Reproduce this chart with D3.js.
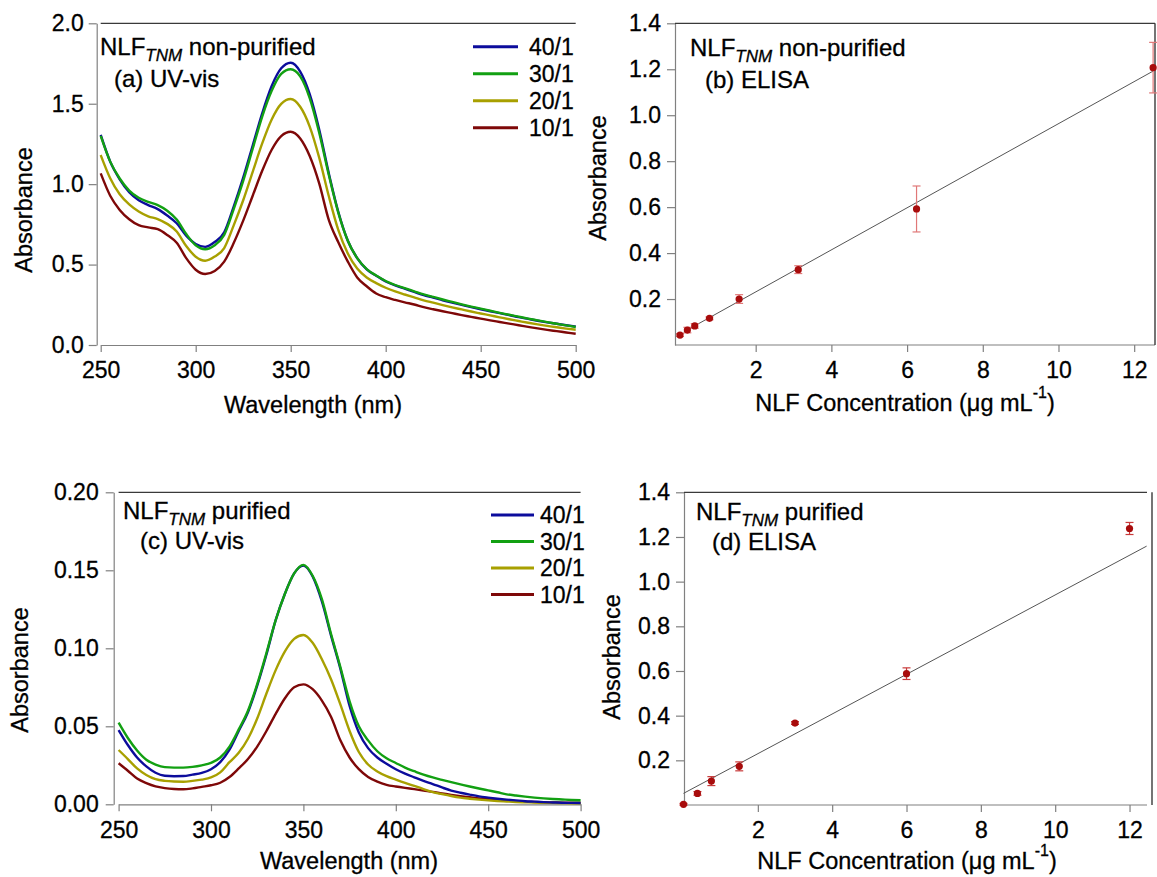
<!DOCTYPE html>
<html><head><meta charset="utf-8">
<script src="https://cdn.jsdelivr.net/npm/d3@7"></script>
<style>
body{margin:0;background:#fff;}
svg text{font-family:"Liberation Sans", Arial, sans-serif; fill:#000; stroke:#000; stroke-width:0.3px;}
</style></head><body>
<svg id="chart" width="1157" height="877"></svg>
<script>
// ---------- data ----------
const wavelength = [250,255,260,265,270,275,280,285,290,295,300,305,310,315,320,325,330,335,340,345,350,355,360,365,370,375,380,385,390,395,400,405,410,415,420,425,430,435,440,445,450,455,460,465,470,475,480,485,490,495,500];
const ratioNames = ["40/1","30/1","20/1","10/1"];
const ratioColors = ["#0c0c9c","#12a012","#a8a000","#7e0808"];

// (a) non-purified UV-vis
const uvA_40 = [1.306,1.14,1.03,0.95,0.90,0.87,0.845,0.805,0.757,0.68,0.628,0.61,0.64,0.70,0.86,1.04,1.24,1.44,1.61,1.72,1.755,1.70,1.56,1.34,1.07,0.83,0.65,0.54,0.47,0.43,0.395,0.37,0.35,0.33,0.31,0.295,0.278,0.263,0.249,0.235,0.222,0.21,0.198,0.186,0.173,0.162,0.151,0.141,0.132,0.123,0.115];
const uvA_30 = [1.30,1.14,1.035,0.96,0.915,0.89,0.87,0.835,0.78,0.69,0.62,0.595,0.62,0.685,0.845,1.02,1.22,1.42,1.58,1.685,1.714,1.67,1.535,1.32,1.06,0.825,0.65,0.54,0.472,0.432,0.398,0.373,0.353,0.334,0.315,0.299,0.283,0.268,0.253,0.239,0.226,0.213,0.2,0.188,0.176,0.164,0.153,0.142,0.132,0.122,0.112];
const uvA_20 = [1.181,1.037,0.937,0.874,0.83,0.80,0.783,0.753,0.706,0.615,0.549,0.524,0.55,0.603,0.744,0.90,1.077,1.253,1.402,1.499,1.529,1.481,1.358,1.165,0.928,0.717,0.57,0.475,0.42,0.385,0.356,0.333,0.314,0.296,0.278,0.263,0.248,0.234,0.221,0.208,0.196,0.184,0.172,0.16,0.149,0.138,0.128,0.119,0.11,0.102,0.095];
const uvA_10 = [1.067,0.928,0.84,0.782,0.745,0.731,0.72,0.684,0.635,0.54,0.468,0.441,0.46,0.518,0.634,0.773,0.928,1.083,1.214,1.299,1.326,1.284,1.175,1.005,0.78,0.64,0.52,0.42,0.365,0.32,0.297,0.28,0.265,0.252,0.235,0.222,0.21,0.198,0.186,0.175,0.164,0.153,0.143,0.133,0.123,0.113,0.103,0.094,0.086,0.078,0.07];

// (c) purified UV-vis
const uvC_40 = [0.0476,0.038,0.030,0.0243,0.0202,0.0183,0.018,0.0181,0.019,0.0201,0.0225,0.027,0.035,0.047,0.059,0.076,0.096,0.118,0.135,0.148,0.153,0.146,0.130,0.108,0.087,0.063,0.046,0.036,0.030,0.026,0.0225,0.0197,0.0173,0.015,0.013,0.0108,0.0088,0.0074,0.0062,0.0051,0.0043,0.0036,0.003,0.0025,0.002,0.0017,0.0014,0.0012,0.001,0.0009,0.0008];
const uvC_30 = [0.0523,0.0425,0.0345,0.0286,0.0255,0.0238,0.0235,0.0235,0.024,0.025,0.0265,0.030,0.037,0.048,0.060,0.077,0.097,0.118,0.135,0.148,0.1535,0.1465,0.1315,0.109,0.088,0.066,0.050,0.041,0.034,0.0295,0.0265,0.0235,0.0212,0.019,0.0172,0.0157,0.0142,0.0128,0.0114,0.0101,0.0089,0.0077,0.0064,0.0056,0.0049,0.0043,0.0038,0.0034,0.0031,0.0028,0.0026];
const uvC_20 = [0.0348,0.029,0.023,0.0188,0.0161,0.015,0.0146,0.0145,0.015,0.0158,0.0172,0.0205,0.027,0.033,0.042,0.055,0.071,0.086,0.098,0.106,0.1085,0.1035,0.093,0.08,0.064,0.047,0.0335,0.0255,0.021,0.018,0.0158,0.0137,0.0118,0.0098,0.0078,0.0065,0.0053,0.0043,0.0036,0.003,0.0025,0.0021,0.0018,0.0015,0.0013,0.0011,0.001,0.0009,0.0008,0.0007,0.0007];
const uvC_10 = [0.0263,0.0215,0.0165,0.0136,0.0115,0.0104,0.0098,0.0096,0.0102,0.0112,0.0122,0.0138,0.0175,0.023,0.029,0.037,0.047,0.058,0.068,0.075,0.0769,0.0738,0.0665,0.056,0.041,0.030,0.0225,0.0175,0.0145,0.0125,0.0114,0.0105,0.0097,0.0088,0.008,0.0069,0.006,0.0052,0.0045,0.0038,0.0032,0.0027,0.0023,0.002,0.0017,0.0015,0.0013,0.0012,0.0011,0.001,0.001];

// (b) non-purified ELISA
const elisaB_conc = [0, 0.195, 0.39, 0.78, 1.5625, 3.125, 6.25, 12.5];
const elisaB_abs  = [0.043, 0.065, 0.083, 0.116, 0.200, 0.328, 0.592, 1.207];
const elisaB_err  = [0.006, 0.012, 0.010, 0.006, 0.019, 0.017, 0.100, 0.110];
const fitB_conc = [0.1, 12.5];
const fitB_abs  = [0.057, 1.192];

// (d) purified ELISA
const elisaD_conc = [0, 0.375, 0.75, 1.5, 3, 6, 12];
const elisaD_abs  = [0.003, 0.052, 0.107, 0.173, 0.367, 0.588, 1.238];
const elisaD_err  = [0.004, 0.008, 0.020, 0.020, 0.006, 0.026, 0.027];
const fitD_conc = [0, 12.46];
const fitD_abs  = [0.052, 1.159];

// tick labels
const uvXTicks = [250,300,350,400,450,500];
const uvAYTicks = [0,0.5,1.0,1.5,2.0];
const uvCYTicks = [0,0.05,0.10,0.15,0.20];
const elisaXTicks = [2,4,6,8,10,12];
const elisaYTicks = [0.2,0.4,0.6,0.8,1.0,1.2,1.4];

// ---------- drawing ----------
const svg = d3.select("#chart");
const AXIS = "#808080", FRAME = "#3a3a3a";
const TICKFS = 23, LABFS = 23.5, TXTFS = 24, SUBFS = 17;

function styleAxis(g){
  g.selectAll(".domain").attr("stroke", AXIS).attr("stroke-width",1.2);
  g.selectAll(".tick line").attr("stroke", AXIS).attr("stroke-width",1.2);
  g.selectAll(".tick text").attr("fill","#000").style("font-size",TICKFS+"px")
    .style("font-family",'"Liberation Sans", Arial, sans-serif');
}

function titleText(x, y, main, rest, line2, x2, y2){
  const t = svg.append("text").attr("x",x).attr("y",y).style("font-size",TXTFS+"px");
  t.append("tspan").text(main);
  t.append("tspan").attr("dy",6).style("font-size",SUBFS+"px").style("font-style","italic").text("TNM");
  t.append("tspan").attr("dy",-6).text(rest);
  svg.append("text").attr("x",x2).attr("y",y2).style("font-size",TXTFS+"px").text(line2);
}

function xLabelConc(cx, y){
  const t = svg.append("text").attr("x",cx).attr("y",y).attr("text-anchor","middle").style("font-size",LABFS+"px");
  t.append("tspan").text("NLF Concentration (μg mL");
  t.append("tspan").attr("dy",-13).style("font-size","16px").text("-1");
  t.append("tspan").attr("dy",13).text(")");
}

function yLabel(x, cy){
  svg.append("text").attr("transform",`translate(${x},${cy}) rotate(-90)`)
    .attr("text-anchor","middle").style("font-size",LABFS+"px").text("Absorbance");
}

function spectraPanel(cfg){
  const x = d3.scaleLinear().domain([250,500]).range([cfg.left, cfg.right]);
  const y = d3.scaleLinear().domain([0, cfg.ymax]).range([cfg.bottom, cfg.top]);
  const gx = svg.append("g").attr("transform",`translate(0,${cfg.bottom})`)
    .call(d3.axisBottom(x).tickValues(uvXTicks).tickSize(7).tickSizeOuter(0).tickPadding(10).tickFormat(d3.format("d")));
  styleAxis(gx);
  const gy = svg.append("g").attr("transform",`translate(${cfg.axisX},0)`)
    .call(d3.axisLeft(y).tickValues(cfg.yTicks).tickSize(8).tickSizeOuter(0).tickPadding(cfg.ypad).tickFormat(d3.format(cfg.yfmt)));
  styleAxis(gy);
  svg.append("line").attr("x1",x(250)).attr("x2",x(500)).attr("y1",cfg.top).attr("y2",cfg.top)
    .attr("stroke",FRAME).attr("stroke-width",1.2);
  const line = d3.line().x((d,i)=>x(wavelength[i])).y(d=>y(d)).curve(d3.curveMonotoneX);
  const order = [3,2,0,1];
  order.forEach(k=>{
    svg.append("path").attr("d", line(cfg.series[k])).attr("fill","none")
      .attr("stroke", ratioColors[k]).attr("stroke-width",2.4).attr("stroke-linejoin","round");
  });
  // legend
  ratioNames.forEach((n,i)=>{
    const ly = cfg.legY + i*cfg.legDy;
    svg.append("line").attr("x1",cfg.legX).attr("x2",cfg.legX+cfg.legLen).attr("y1",ly).attr("y2",ly)
      .attr("stroke",ratioColors[i]).attr("stroke-width",3);
    svg.append("text").attr("x",cfg.legX+cfg.legLen+cfg.legGap).attr("y",ly+8).style("font-size",TICKFS+"px").text(n);
  });
}

function elisaPanel(cfg){
  const x = d3.scaleLinear().domain(cfg.xdom).range([cfg.left, cfg.right]);
  const y = d3.scaleLinear().domain([0,1.4]).range([cfg.bottom, cfg.top]);
  const gx = svg.append("g").attr("transform",`translate(0,${cfg.bottom})`)
    .call(d3.axisBottom(x).tickValues(elisaXTicks).tickSize(7).tickSizeOuter(0).tickPadding(10).tickFormat(d3.format("d")));
  gx.select(".domain").attr("d", `M${cfg.axisX},0H${cfg.right}`);
  styleAxis(gx);
  const gy = svg.append("g").attr("transform",`translate(${cfg.axisX},0)`)
    .call(d3.axisLeft(y).tickValues(elisaYTicks).tickSize(8).tickSizeOuter(0).tickPadding(6).tickFormat(d3.format(".1f")));
  styleAxis(gy);
  svg.append("line").attr("x1",cfg.axisX).attr("x2",cfg.right).attr("y1",cfg.top).attr("y2",cfg.top)
    .attr("stroke",FRAME).attr("stroke-width",1.2);
  svg.append("line").attr("x1",cfg.rightLine).attr("x2",cfg.rightLine).attr("y1",cfg.top).attr("y2",cfg.bottom)
    .attr("stroke",FRAME).attr("stroke-width",1.4);
  // fit
  svg.append("line").attr("x1",x(cfg.fitX[0])).attr("x2",x(cfg.fitX[1]))
    .attr("y1",y(cfg.fitY[0])).attr("y2",y(cfg.fitY[1])).attr("stroke","#555").attr("stroke-width",1);
  // error bars
  const g = svg.append("g");
  cfg.conc.forEach((c,i)=>{
    const cx = x(c), e = cfg.err[i], v = cfg.abs[i];
    g.append("line").attr("x1",cx).attr("x2",cx).attr("y1",y(v-e)).attr("y2",y(v+e)).attr("stroke",cfg.errColor).attr("stroke-width",1.2);
    [v-e, v+e].forEach(t=>g.append("line").attr("x1",cx-4).attr("x2",cx+4).attr("y1",y(t)).attr("y2",y(t)).attr("stroke",cfg.errColor).attr("stroke-width",1.2));
  });
  cfg.conc.forEach((c,i)=>{
    g.append("circle").attr("cx",x(c)).attr("cy",y(cfg.abs[i])).attr("r",3.6).attr("fill","#a80c0c");
  });
}

// (a)
spectraPanel({left:100.7,right:575.7,top:23.3,bottom:345,axisX:96.7,ymax:2.0,yTicks:uvAYTicks,yfmt:".1f",ypad:5,
  series:[uvA_40,uvA_30,uvA_20,uvA_10],
  legX:473,legLen:45,legGap:11,legY:46.7,legDy:27});
titleText(100,55,"NLF"," non-purified","(a) UV-vis",114,87);
yLabel(32,210);
svg.append("text").attr("x",313).attr("y",413).attr("text-anchor","middle").style("font-size",LABFS+"px").text("Wavelength (nm)");

// (c)
spectraPanel({left:118.6,right:580.6,top:492.3,bottom:804.3,axisX:113.7,ymax:0.2,yTicks:uvCYTicks,yfmt:".2f",ypad:7,
  series:[uvC_40,uvC_30,uvC_20,uvC_10],
  legX:491,legLen:43,legGap:6,legY:515,legDy:26.5});
titleText(123,519,"NLF"," purified","(c) UV-vis",140,549);
yLabel(28,670);
svg.append("text").attr("x",349).attr("y",869).attr("text-anchor","middle").style("font-size",LABFS+"px").text("Wavelength (nm)");

// (b)
elisaPanel({xdom:[-0.1,12.55],left:676.2,right:1155,axisX:675,top:23.3,bottom:345,rightLine:1155,
  conc:elisaB_conc,abs:elisaB_abs,err:elisaB_err,fitX:fitB_conc,fitY:fitB_abs,errColor:"#e07878"});
titleText(690,56,"NLF"," non-purified","(b) ELISA",705,88);
yLabel(606,178);
xLabelConc(905,411);

// (d)
elisaPanel({xdom:[0,12.47],left:683.5,right:1147,axisX:684,top:492.3,bottom:805,rightLine:1152,
  conc:elisaD_conc,abs:elisaD_abs,err:elisaD_err,fitX:fitD_conc,fitY:fitD_abs,errColor:"#c83a3a"});
titleText(696,520,"NLF"," purified","(d) ELISA",712,550);
yLabel(620,657);
xLabelConc(907,869);
</script>
</body></html>
